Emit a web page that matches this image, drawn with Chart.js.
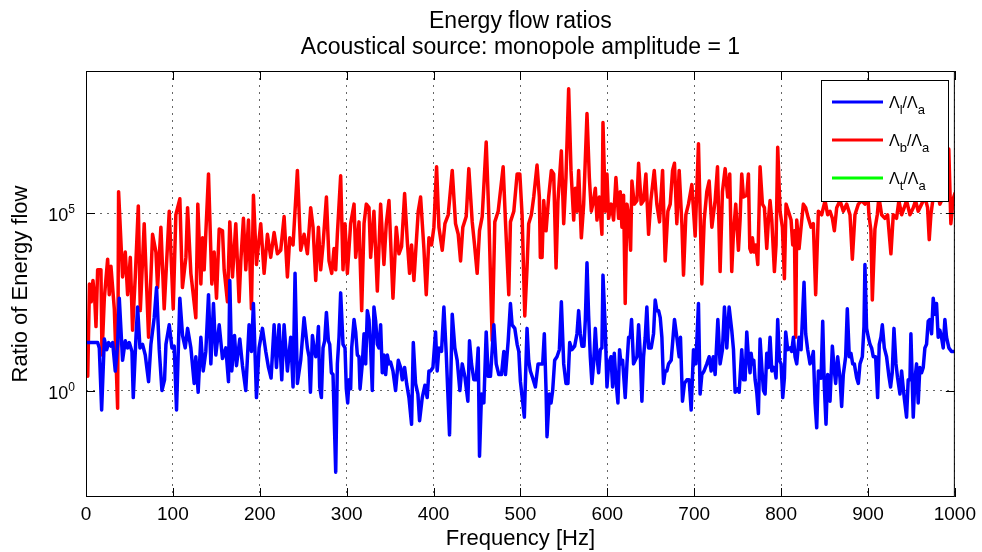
<!DOCTYPE html>
<html>
<head>
<meta charset="utf-8">
<script src="https://cdn.jsdelivr.net/npm/chart.js@4/dist/chart.umd.min.js"></script>
<style>
  html, body { margin: 0; padding: 0; background: #fff; }
</style>
</head>
<body>
<canvas id="ratio-chart" width="982" height="552"></canvas>
<script>
// Frequencies [Hz] of the traced vertices and log10 of the ratio
const freqL = [
  0, 13.4, 15.3, 18, 21.1, 23.8, 26.1, 28.7, 30.7, 33.7,
  36.4, 38.3, 42.1, 45.2, 47.9, 49.8, 52.9, 54.4, 57.5, 59.4,
  62.1, 65.1, 68.2, 72, 74.7, 78.5, 81.2, 84.3, 87.4, 90.4,
  92, 95.8, 98.9, 101.5, 104.2, 108, 111.1, 114.2, 116.9, 120.7,
  124.5, 126.4, 129.1, 132.2, 134.9, 137.9, 141, 143.7, 146.7, 149.4,
  153.3, 157.1, 160.9, 164, 165.5, 167.8, 170.9, 173.2, 177, 180.1,
  183.9, 187.7, 190.4, 192.7, 196.2, 199.2, 203.1, 206.9, 210, 213,
  216.5, 219.2, 222.2, 225.3, 228, 231.8, 235.6, 238.3, 240.6, 243.3,
  247.1, 251, 254.8, 256.7, 258.3, 260.6, 262.5, 264.4, 265.5, 267.5,
  269, 270.9, 272.8, 274.7, 276.7, 279, 280.5, 282.4, 284.3, 287.4,
  289.3, 291.2, 293.1, 295.8, 298.1, 299.6, 301.2, 302.7, 304.6, 305.8,
  308.5, 310.4, 312.3, 314.2, 315.4, 318, 320, 321.9, 323.8, 325.7,
  327.6, 329.5, 331.4, 333.4, 335.3, 337.2, 339.1, 341, 342.9, 344.9,
  346.8, 348.7, 350.6, 353.3, 356.3, 359.4, 362.1, 364, 366.7, 369,
  371.7, 374.7, 376.7, 379.3, 382, 383.9, 387, 390.1, 392.7, 394.7,
  396.6, 399.3, 402.3, 404.2, 406.2, 409.2, 411.9, 414.6, 418.4, 421.5,
  424.5, 427.2, 430.3, 433, 436, 439.5, 441.4, 443.7, 446.4, 449.1,
  451.4, 452.9, 455.2, 457.9, 460.6, 462.9, 465.5, 469.4, 472.1, 475.1,
  478.2, 480.9, 482.8, 485.9, 488.5, 490.4, 493.5, 496.2, 498.1, 500,
  504.5, 507.6, 509.5, 511.4, 514.1, 517.2, 520.3, 522.9, 525.6, 527.5,
  529.5, 530.6, 533.3, 535.2, 537.1, 539.4, 542.1, 544.8, 547.1, 549.8,
  552.4, 554.7, 556.7, 559.3, 562.4, 565.1, 567, 568.9, 570.8, 573.1,
  574.7, 576.6, 578.5, 580.4, 582.3, 584.2, 586.2, 588.1, 590, 591.9,
  593.8, 595, 597.7, 599.6, 601.5, 604.2, 606.1, 608, 609.9, 612.2,
  614.1, 615.7, 617.6, 620.6, 622.6, 624.5, 626.4, 627.9, 630.2, 632.1,
  634.1, 636, 637.9, 639.8, 641.7, 643.6, 645.5, 647.5, 650.5, 653.2,
  655.1, 657, 659, 660.9, 662.8, 664.7, 666.6, 668.5, 670.5, 673.5,
  677.3, 680, 682.7, 684.2, 686.5, 688.8, 691.5, 694.2, 696.5, 699.2,
  701.9, 704.9, 706.8, 708.8, 711.4, 714.5, 717.2, 719.5, 721.9, 724.1,
  727.2, 729.8, 732.5, 734.8, 737.5, 740.2, 743.2, 745.2, 747.1, 749.8,
  751.7, 754.7, 756.7, 758.6, 760.5, 762.4, 764.3, 765.5, 767, 768.6,
  770.1, 772, 773.9, 775.8, 777.8, 779.7, 781.6, 783.5, 785.4, 787.3,
  789.3, 791.2, 793.1, 794.2, 796.1, 798.1, 800, 801.9, 803.8, 805.3,
  807.6, 810.3, 812.2, 814.2, 816.1, 818, 820.7, 823, 824.5, 826.4,
  828.3, 830.6, 833.3, 835.2, 837.1, 839.1, 841, 842.9, 846, 847.9,
  849.8, 851.7, 853.6, 856.3, 859, 861.3, 862.8, 865.1, 867.8, 869.7,
  871.6, 874.3, 876.2, 878.5, 880.4, 882.4, 884.3, 887, 888.9, 890.8,
  893.5, 895.4, 896.5, 898.4, 900.4, 902.3, 904.2, 906.1, 908.8, 911.1,
  913, 914.9, 916.5, 918.8, 921.4, 924.1, 926, 927.9, 929.9, 932.2,
  934.1, 936.8, 938.7, 941.7, 944.4, 946.3, 948.3, 949.4, 952.1, 954,
  955.9, 957.8, 959.7, 961.7, 963.6, 965.5, 967.4, 969.3, 971.2, 973.2,
  975.1, 977, 978.9, 980.8, 982.7, 984.6, 986.6, 988.5, 990.4, 993.1,
  996.1, 999.2, 1000
];
const logRatioL = [
  1.35, 1.35, 1.2, -0.55, 1.45, 1.15, 1.35, 1.25, 1.35, 0.55,
  1.3, 2.6, 0.85, 1.4, 1.2, 1.35, 1.1, -0.2, 1.5, 2.35,
  1.2, 1.3, 1.0, 0.25, 1.3, 2.05, 2.9, 1.15, 0.0, 0.3,
  1.3, 1.85, 1.2, 1.25, -0.55, 2.6, 1.55, 1.2, 1.75, 1.2,
  0.2, 0.95, -0.05, 1.5, 0.55, 1.1, 2.7, 0.75, 2.45, 1.0,
  1.85, 0.9, 1.2, 0.25, 3.1, 0.55, 1.55, 0.7, 1.45, 0.7,
  0.0, 1.85, 1.1, 2.45, -0.2, 1.2, 1.75, 1.1, 0.65, 0.35,
  1.85, 0.65, 1.85, 0.3, 1.85, 0.55, 1.5, 0.1, 3.3, 0.2,
  0.85, 2.05, 1.2, 0.95, -0.05, 1.55, 1.2, 0.95, 1.05, 1.8,
  0.1, -0.2, 1.2, 1.4, 2.2, 1.4, 1.3, 0.5, 0.45, -2.3,
  0.75, 1.5, 2.75, 1.3, 1.2, 0.05, -0.35, 0.3, 0.05, 1.2,
  2.0, 1.65, 1.0, 0.95, 0.05, 0.75, 1.6, 0.75, 2.25, 2.0,
  1.2, 0.0, 2.35, 1.95, 1.3, 1.2, 1.85, 0.5, 1.0, 0.45,
  1.0, 0.75, 0.8, 0.55, 0.0, 0.85, 0.65, 0.3, 0.65, 0.2,
  -0.2, -0.95, 1.35, 0.2, -0.1, -0.85, -0.2, 0.15, -0.2, 0.55,
  0.55, 0.65, 1.65, 0.55, 1.2, 1.1, 2.35, 1.05, -1.25, 2.15,
  1.2, 0.85, 0.0, 0.75, 0.4, -0.3, 1.4, 0.75, 0.3, 0.3,
  1.2, -1.85, -0.1, -0.35, 1.65, 0.4, 0.4, 1.85, 0.75, 0.45,
  0.45, 1.1, 0.45, 1.4, 2.45, 1.85, 1.75, 1.3, 1.1, 0.25,
  -0.75, 1.75, 0.85, 0.55, 0.35, 0.1, 0.75, 0.75, 0.75, 1.6,
  0.0, -1.3, -0.1, -0.35, 0.0, 0.85, 0.95, 1.15, 2.5, 0.75,
  0.2, 0.2, 1.35, 1.15, 1.25, 1.6, 2.25, 1.6, 1.25, 1.25,
  2.0, 3.6, 2.1, 0.95, 0.2, 0.75, 1.75, 0.95, 0.5, 1.15,
  1.2, 3.25, 1.7, 0.1, 0.75, 0.95, 0.1, 1.05, 0.3, -0.35,
  1.15, 0.75, 0.85, -0.2, 0.75, 1.5, 1.5, 2.0, 0.75, 0.85,
  0.95, 1.85, 1.05, -0.3, 0.95, 1.5, 2.35, 1.2, 1.2, 1.6,
  2.55, 2.25, 2.25, 2.05, 1.5, 0.2, 0.55, 0.55, 0.75, 0.85,
  2.0, 1.5, 0.95, 1.5, -0.3, 0.2, 0.3, 0.3, -0.55, 1.15,
  0.75, 2.45, -0.1, 0.45, 0.55, 0.75, 0.95, 0.55, 0.95, 0.45,
  2.0, 0.75, 1.15, 2.35, 1.2, 2.35, 1.7, 1.15, -0.05, 0.05,
  -0.05, 1.15, 0.3, 0.3, 1.65, 0.95, 0.5, 1.05, 0.75, 0.85,
  0.3, -0.05, -0.65, 1.45, 0.65, 0.0, -0.1, 1.05, 0.65, 1.5,
  0.55, 0.65, 0.55, 0.35, 2.0, 0.85, 0.75, -0.2, 0.35, 1.65,
  1.15, 1.2, 1.1, 1.5, 0.95, 0.75, 1.5, 1.15, 2.0, 3.05,
  1.6, 1.15, 0.75, 0.85, 1.1, -0.35, -1.05, 0.55, 0.35, 1.95,
  0.1, -0.95, 0.45, -0.3, 1.25, 0.55, 0.2, 0.95, 0.35, -0.45,
  0.45, 0.95, 2.3, 0.95, 1.05, 0.75, 0.75, 0.35, 0.2, 0.75,
  0.95, 1.8, 3.55, 1.75, 1.5, 1.3, 1.2, 0.95, 0.95, -0.2,
  1.3, 1.5, 1.85, 1.2, 0.95, 0.4, 0.1, 0.5, 1.75, 0.75,
  0.35, -0.1, 0.55, -0.2, -0.75, 0.3, 0.3, 1.6, -0.75, 0.3,
  0.75, -0.35, 0.65, 0.5, 0.65, 1.2, 1.3, 1.95, 2.0, 1.6,
  2.6, 2.15, 2.45, 1.5, 1.7, 1.5, 1.2, 2.0, 1.5, 1.2,
  1.1, 1.1, 1.1
];

const freqB = [
  2, 4, 6, 8, 10, 11.5, 13.4, 17.2, 18.4, 21.1,
  24.9, 26.8, 28.7, 32.6, 36.4, 37.5, 42.1, 45.2, 47.9, 51,
  53.6, 56.7, 60.2, 62.5, 67, 72, 76.6, 80.5, 82.4, 86.2,
  90, 95.8, 100.4, 103.4, 108, 111, 115, 116.9, 120.7, 126.4,
  128.7, 132.2, 134.1, 136, 141, 144.8, 147.5, 150.2, 153.3, 157.1,
  159, 162.8, 165.5, 168.6, 172.4, 176.2, 178.2, 181.2, 183.9, 187,
  190.4, 192.7, 196.2, 201.1, 205, 208.8, 212.6, 216.5, 220.3, 224.1,
  228, 231.8, 234.5, 238.3, 243.3, 247.1, 251, 254.8, 258.6, 261.3,
  264.4, 267.5, 270.1, 272.8, 276.7, 279.7, 282.8, 285.5, 287.4, 289.3,
  293.1, 295.8, 298.1, 300.8, 304.6, 308.5, 310.4, 314.2, 317.3, 320,
  322.6, 325.7, 327.6, 331.4, 335.3, 339.1, 342.9, 345.6, 348.7, 353.3,
  357.1, 360.2, 363.2, 366.7, 369.8, 372.4, 374.7, 377.4, 379.3, 382.4,
  385.1, 388.9, 391.6, 394.7, 397.7, 400.4, 403.5, 406.2, 410, 413.1,
  416.9, 421.5, 425.3, 428.4, 431.1, 433.7, 437.6, 440.6, 444.5, 447.2,
  450.2, 452.9, 456, 460.6, 463.6, 467.5, 470.5, 474.4, 480.1, 482.8,
  486.6, 488.5, 492.4, 496.2, 499.3, 501.9, 505, 507.6, 509.5, 512.6,
  515.3, 519.1, 521.8, 522.9, 524.9, 526.8, 529.5, 532.5, 535.6, 538.3,
  541, 543.2, 547.1, 549.8, 552.4, 555.5, 558.2, 561.3, 563.2, 565.1,
  567, 570.1, 572.8, 576.6, 579.3, 581.6, 584.2, 586.2, 588.1, 590.8,
  593.8, 595, 597.7, 599.6, 601.5, 604.5, 607.2, 609.9, 613, 614.9,
  616.8, 618.7, 620.6, 622.6, 624.5, 626.8, 628.3, 631, 634.1, 636,
  639, 641.7, 644.4, 647.5, 650.1, 654, 657, 660.1, 663.6, 666.6,
  669.7, 672.4, 675.1, 677.3, 680, 682.7, 685.8, 687.7, 690.4, 693.4,
  697.3, 701.1, 704.9, 708.8, 711.5, 714.5, 717.2, 720.3, 724.1, 726.8,
  729.8, 732.5, 735.6, 738.6, 740.9, 743.2, 745.2, 747.8, 750.9, 752.8,
  754.7, 756.7, 760.5, 762.4, 764, 765.5, 767, 769, 770.9, 773.2,
  775.8, 778.5, 780.8, 783.5, 785.4, 787.3, 789.3, 792.3, 794.2, 796.1,
  798.8, 801.5, 803.8, 805.7, 808.4, 811.5, 813.4, 815.3, 816.8, 818,
  820.7, 823, 825.6, 828.3, 831.4, 834.5, 837.1, 839.8, 842.9, 846.7,
  850.6, 853.6, 856.3, 859, 861.3, 864, 867.8, 871.6, 875.5, 879.3,
  882, 885, 888.9, 892.7, 896.5, 899.6, 901.1, 903.4, 905, 908,
  910.7, 912.6, 915.7, 919.5, 922.6, 926.4, 929.1, 932.9, 935.6, 938.7,
  941.7, 944.4, 948.3, 952.1, 954.8, 957.8, 961.7, 965.5, 968.6, 970.5,
  972.4, 975.1, 978.9, 982.7, 986.6, 990.4, 993, 995.4, 998.1, 1000
];
const logRatioB = [
  0.4, 3.0, 2.5, 3.1, 2.6, 1.8, 3.4, 3.4, 1.0, 2.6,
  3.7, 2.7, 3.5, 2.3, -0.5, 5.6, 3.2, 3.9, 2.7, 3.75,
  1.7, 3.2, 5.2, 2.25, 4.7, 1.5, 4.4, 3.9, 2.9, 4.6,
  2.3, 5.05, 2.3, 4.95, 5.4, 2.9, 3.75, 5.15, 3.3, 2.05,
  5.25, 3.0, 4.3, 3.4, 6.1, 3.0, 3.9, 2.6, 4.55, 4.5,
  3.4, 2.5, 4.75, 3.2, 4.7, 2.5, 3.65, 4.85, 3.4, 4.8,
  2.3, 5.5, 3.55, 4.7, 3.3, 4.4, 3.75, 4.45, 3.85, 3.95,
  4.9, 3.2, 4.3, 4.1, 6.2, 3.95, 4.4, 3.85, 5.15, 4.6,
  3.1, 4.6, 3.4, 4.1, 5.45, 3.65, 3.3, 4.0, 3.4, 4.4,
  6.05, 3.4, 4.7, 3.3, 4.7, 5.25, 3.75, 4.75, 2.25, 4.7,
  5.25, 5.15, 3.75, 5.05, 2.8, 5.25, 3.55, 4.7, 5.35, 2.6,
  4.6, 3.85, 4.05, 5.55, 4.2, 3.3, 4.1, 3.1, 3.85, 5.05,
  5.45, 4.0, 2.7, 4.3, 4.1, 4.6, 6.3, 4.6, 3.95, 4.7,
  4.95, 6.2, 4.7, 4.4, 3.65, 4.6, 4.9, 6.25, 4.75, 4.1,
  3.3, 4.5, 4.9, 7.0, 4.95, 1.4, 4.75, 5.05, 6.3, 4.75,
  2.7, 4.75, 5.05, 6.1, 6.1, 4.95, 2.1, 3.45, 4.7, 4.95,
  5.45, 6.35, 5.45, 3.75, 3.75, 5.35, 4.5, 5.45, 6.2, 6.1,
  3.45, 5.35, 6.75, 4.7, 6.0, 8.5, 6.2, 4.8, 5.7, 5.05,
  6.2, 4.3, 5.25, 7.8, 6.0, 5.05, 5.35, 5.7, 4.8, 5.45,
  4.4, 7.55, 5.05, 6.1, 4.85, 5.25, 4.8, 6.0, 4.85, 5.6,
  4.6, 5.5, 2.45, 5.25, 4.95, 3.95, 5.9, 5.25, 5.35, 6.4,
  5.25, 5.35, 6.1, 4.4, 5.35, 6.2, 5.25, 4.75, 6.2, 3.65,
  5.05, 5.25, 6.2, 6.4, 4.7, 6.2, 4.7, 3.25, 4.95, 5.25,
  5.8, 4.35, 6.95, 3.0, 4.8, 5.6, 5.9, 4.6, 5.35, 6.3,
  3.35, 5.6, 6.25, 5.45, 6.1, 3.35, 4.45, 5.25, 3.95, 4.8,
  6.1, 5.45, 5.5, 6.1, 4.0, 3.9, 4.3, 3.9, 4.1, 3.55,
  6.3, 5.25, 5.15, 4.0, 4.8, 5.35, 4.8, 3.35, 4.1, 6.85,
  5.05, 4.6, 3.15, 5.25, 5.05, 4.8, 4.1, 4.5, 1.5, 4.8,
  4.0, 4.6, 5.25, 5.15, 4.85, 4.6, 4.7, 2.7, 5.05, 4.95,
  5.35, 4.95, 5.05, 4.85, 4.5, 5.15, 5.35, 5.05, 5.25, 4.95,
  3.7, 4.95, 5.25, 5.35, 5.25, 5.6, 4.95, 4.5, 2.55, 4.55,
  4.95, 5.45, 4.95, 4.85, 4.95, 3.85, 4.95, 4.85, 5.35, 4.95,
  5.15, 5.35, 4.95, 5.15, 5.35, 5.05, 5.25, 5.45, 5.15, 4.25,
  4.95, 5.45, 5.75, 5.25, 5.45, 6.1, 6.8, 4.7, 5.4, 5.55
];

// third ratio has no visible samples in range
const freqT = [];
const logRatioT = [];

const xTicks = [0, 100, 200, 300, 400, 500, 600, 700, 800, 900, 1000];
const yTicks = [1, 1e5];
const seriesSubs = ['l', 'b', 't'];
const seriesColors = ['#0000ff', '#ff0000', '#00ff00'];

const FONT = '"Liberation Sans", Arial, Helvetica, sans-serif';

function toPoints(freq, logs) {
  const n = Math.min(freq.length, logs.length);
  const pts = [];
  for (let i = 0; i < n; i++) pts.push({x: freq[i], y: Math.pow(10, logs[i])});
  return pts;
}

// Frame, inner tick marks, y tick labels, titles and the boxed legend
const decorations = {
  id: 'decorations',
  afterDraw(chart) {
    const {ctx, chartArea: a, scales: {x, y}} = chart;
    ctx.save();
    ctx.strokeStyle = '#000';
    ctx.lineWidth = 1;
    ctx.strokeRect(a.left + 0.5, a.top + 0.5, a.right - a.left - 1, a.bottom - a.top - 1);

    ctx.beginPath();
    xTicks.forEach(v => {
      const px = Math.round(x.getPixelForValue(v)) + 0.5;
      ctx.moveTo(px, a.bottom); ctx.lineTo(px, a.bottom - 9);
      ctx.moveTo(px, a.top); ctx.lineTo(px, a.top + 9);
    });
    yTicks.forEach(v => {
      const py = Math.round(y.getPixelForValue(v)) + 0.5;
      ctx.moveTo(a.left, py); ctx.lineTo(a.left + 9, py);
      ctx.moveTo(a.right, py); ctx.lineTo(a.right - 9, py);
    });
    ctx.stroke();

    // y tick labels as 10^n
    ctx.fillStyle = '#000';
    yTicks.forEach(v => {
      const py = y.getPixelForValue(v);
      const e = String(Math.round(Math.log10(v)));
      ctx.font = '12px ' + FONT;
      const ew = ctx.measureText(e).width;
      ctx.textAlign = 'left';
      ctx.textBaseline = 'alphabetic';
      ctx.fillText(e, 75 - ew, py);
      ctx.font = '18px ' + FONT;
      ctx.textAlign = 'right';
      ctx.fillText('10', 75 - ew, py + 8);
    });

    // titles
    const cx = (a.left + a.right) / 2;
    ctx.font = '23px ' + FONT;
    ctx.textAlign = 'center';
    ctx.fillText('Energy flow ratios', cx, 28);
    ctx.fillText('Acoustical source: monopole amplitude = 1', cx, 54);

    // legend
    const bx = 821, by = 80, bw = 127, bh = 121;
    ctx.fillStyle = '#fff';
    ctx.fillRect(bx, by, bw, bh);
    ctx.strokeStyle = '#000';
    ctx.lineWidth = 1;
    ctx.strokeRect(bx + 0.5, by + 0.5, bw, bh);
    chart.data.datasets.forEach((ds, i) => {
      const ly = 102 + i * 38;
      ctx.strokeStyle = ds.borderColor;
      ctx.lineWidth = 3;
      ctx.beginPath();
      ctx.moveTo(832, ly); ctx.lineTo(883, ly);
      ctx.stroke();
      ctx.fillStyle = '#000';
      ctx.textAlign = 'left';
      let tx = 889;
      ctx.font = '16px ' + FONT;
      ctx.fillText('Λ', tx, ly + 6); tx += ctx.measureText('Λ').width;
      ctx.font = '13px ' + FONT;
      ctx.fillText(seriesSubs[i], tx, ly + 12); tx += ctx.measureText(seriesSubs[i]).width;
      ctx.font = '16px ' + FONT;
      ctx.fillText('/Λ', tx, ly + 6); tx += ctx.measureText('/Λ').width;
      ctx.font = '13px ' + FONT;
      ctx.fillText('a', tx, ly + 12);
    });
    ctx.restore();
  }
};

const gridStyle = {color: 'rgba(0,0,0,0.6)', drawTicks: false, lineWidth: 1};

new Chart(document.getElementById('ratio-chart').getContext('2d'), {
  type: 'line',
  data: {
    datasets: [
      {label: 'Λl/Λa', data: toPoints(freqL, logRatioL), borderColor: seriesColors[0]},
      {label: 'Λb/Λa', data: toPoints(freqB, logRatioB), borderColor: seriesColors[1]},
      {label: 'Λt/Λa', data: toPoints(freqT, logRatioT), borderColor: seriesColors[2]}
    ]
  },
  options: {
    responsive: false,
    devicePixelRatio: 1,
    animation: false,
    layout: {padding: {top: 71, right: 25, left: 0, bottom: 0}},
    elements: {
      point: {radius: 0},
      line: {borderWidth: 3.5, tension: 0, borderJoinStyle: 'round', borderCapStyle: 'round', fill: false}
    },
    plugins: {legend: {display: false}, tooltip: {enabled: false}},
    scales: {
      x: {
        type: 'linear', min: 0, max: 1000,
        afterBuildTicks: s => { s.ticks = xTicks.map(v => ({value: v})); },
        afterFit: s => { s.height = 55; },
        ticks: {color: '#000', font: {family: FONT, size: 19}, padding: 6, maxRotation: 0, autoSkip: false,
                callback: v => String(v)},
        grid: gridStyle,
        border: {display: false, dash: [2, 5]},
        title: {display: true, text: 'Frequency [Hz]', color: '#000', font: {family: FONT, size: 22}, padding: 0}
      },
      y: {
        type: 'logarithmic', min: 1e-3, max: 1e9,
        afterBuildTicks: s => { s.ticks = yTicks.map(v => ({value: v})); },
        afterFit: s => { s.width = 86; },
        ticks: {display: false},
        grid: gridStyle,
        border: {display: false, dash: [2, 5]},
        title: {display: true, text: 'Ratio of Energy flow', color: '#000', font: {family: FONT, size: 22}, padding: {top: 8, bottom: 0}}
      }
    }
  },
  plugins: [decorations]
});
</script>
</body>
</html>
